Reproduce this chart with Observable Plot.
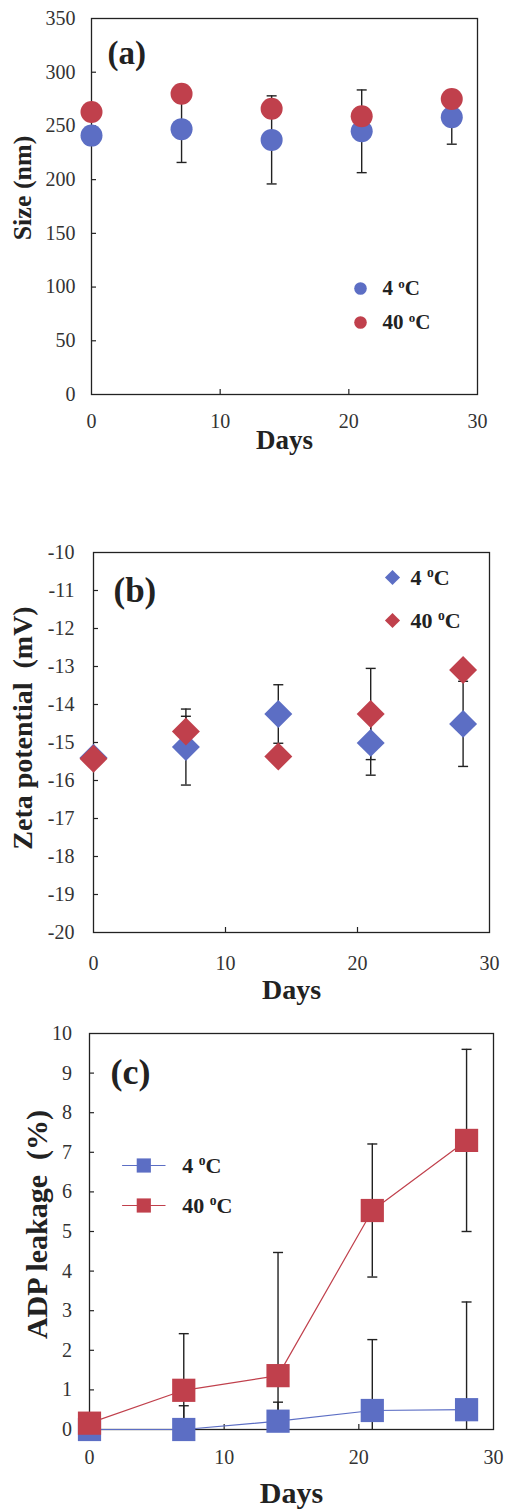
<!DOCTYPE html>
<html><head><meta charset="utf-8">
<script src="https://cdn.jsdelivr.net/npm/d3@7"></script>
<script src="https://cdn.jsdelivr.net/npm/@observablehq/plot@0.6"></script>
<style>
body{margin:0;background:#fff;width:506px;height:1509px;position:relative;overflow:hidden}
.panel{position:absolute;left:0}
svg, svg text, svg tspan{font-family:"Liberation Serif","DejaVu Serif",serif !important}
</style></head><body>
<div id="pa" class="panel" style="top:0px"></div>
<div id="pb" class="panel" style="top:480px"></div>
<div id="pc" class="panel" style="top:1010px"></div>
<script>
// ---------- data ----------
const days = [0, 7, 14, 21, 28];
const seriesNames = ["4 oC", "40 oC"];
const xTicks = [0, 10, 20, 30];

// (a) particle size, nm
const sizeTicks = [0, 50, 100, 150, 200, 250, 300, 350];
const sizeCold = [241, 247, 237, 245, 258];
const sizeColdErr = [0, 31, 41, 38.5, 25];
const sizeHot = [263, 280, 266, 259, 275];
const sizeHotErr = [0, 0, 0, 0, 0];

// (b) zeta potential, mV
const zetaTicks = [-20, -19, -18, -17, -16, -15, -14, -13, -12, -11, -10];
const zetaCold = [-15.4, -15.12, -14.25, -15.01, -14.51];
const zetaColdErr = [0, 1.0, 0.77, 0.85, 1.12];
const zetaHot = [-15.43, -14.71, -15.37, -14.25, -13.09];
const zetaHotErr = [0, 0.4, 0, 1.2, 0];

// (c) ADP leakage, %
const adpTicks = [0, 1, 2, 3, 4, 5, 6, 7, 8, 9, 10];
const adpCold = [0, 0, 0.21, 0.48, 0.5];
const adpColdErr = [0, 0.6, 0.48, 1.79, 2.72];
const adpHot = [0.16, 0.99, 1.36, 5.53, 7.3];
const adpHotErr = [0, 1.43, 3.11, 1.68, 2.3];

// ---------- styling ----------
const colors = ["#5c6ec4", "#c0404c"];
const ink = "#222";
const font = "Liberation Serif";
const hline = {draw(ctx, size) { const r = Math.sqrt(size / Math.PI); ctx.moveTo(-r, 0); ctx.lineTo(r, 0); }};

function rows(vals, errs, s) { return days.map((d, i) => ({day: d, v: vals[i], e: errs[i], s})); }

function panel(cfg) {
  const {el, height, mt, mb, ml, mr, yDomain, yTicks, series, symbol, r, lines,
         tickPadX, tickPadY, yTitle, yTitleSize, yTitleDx, yTitleDy, xTitleSize, xTitleDy,
         tag, tagSize, tagDx, tagDy, legend} = cfg;
  const innerW = 506 - ml - mr, innerH = height - mt - mb;
  const marks = [
    Plot.frame({stroke: ink, strokeWidth: 1.3}),
    Plot.tickX(xTicks.slice(1, -1), {x: d => d, stroke: ink, strokeWidth: 1.2, insetTop: innerH - 5}),
    Plot.tickY(yTicks.slice(1, -1), {y: d => d, stroke: ink, strokeWidth: 1.2, insetRight: innerW - 5}),
    Plot.axisX({ticks: xTicks, tickSize: 0, tickPadding: tickPadX, fontSize: 20, fontFamily: font, fill: "#333", label: null, tickFormat: d => String(d)}),
    Plot.axisY({ticks: yTicks, tickSize: 0, tickPadding: tickPadY, fontSize: 20, fontFamily: font, fill: "#333", label: null, tickFormat: d => String(d)}),
    Plot.text([yTitle], {text: d => d, frameAnchor: "left", rotate: -90, textAnchor: "middle", lineAnchor: "middle",
      dx: yTitleDx, dy: yTitleDy, fontSize: yTitleSize, fontFamily: font, fontWeight: "bold", fill: ink}),
    Plot.text(["Days"], {text: d => d, frameAnchor: "bottom", textAnchor: "middle", lineAnchor: "middle",
      dy: xTitleDy, fontSize: xTitleSize, fontFamily: font, fontWeight: "bold", fill: ink}),
    Plot.text([tag], {text: d => d, frameAnchor: "top-left", textAnchor: "start", lineAnchor: "middle",
      dx: tagDx, dy: tagDy, fontSize: tagSize, fontFamily: font, fontWeight: "bold", fill: ink})
  ];
  // error bars (behind markers)
  for (const data of series) {
    const withErr = data.filter(d => d.e > 0);
    marks.push(
      Plot.ruleX(withErr, {x: "day", y1: d => d.v - d.e, y2: d => d.v + d.e, stroke: ink, strokeWidth: 1.4, clip: true}),
      Plot.dot(withErr, {x: "day", y: d => d.v + d.e, symbol: hline, r: 5, stroke: ink, strokeWidth: 1.4, fill: "none", clip: true}),
      Plot.dot(withErr, {x: "day", y: d => d.v - d.e, symbol: hline, r: 5, stroke: ink, strokeWidth: 1.4, fill: "none", clip: true})
    );
  }
  series.forEach((data, i) => {
    if (lines) marks.push(Plot.line(data, {x: "day", y: "v", stroke: colors[i], strokeWidth: 1.2}));
    marks.push(Plot.dot(data, {x: "day", y: "v", symbol, r, fill: colors[i]}));
  });
  // legend
  seriesNames.forEach((name, i) => {
    if (legend.line) marks.push(Plot.dot([name], {frameAnchor: "top-left", dx: legend.mx, dy: legend.dy[i],
      symbol: hline, r: legend.line, stroke: colors[i], strokeWidth: 1.2, fill: "none"}));
    marks.push(Plot.dot([name], {frameAnchor: "top-left", dx: legend.mx, dy: legend.dy[i], symbol, r: legend.r, fill: colors[i]}));
    marks.push(Plot.text([name], {text: d => d, frameAnchor: "top-left", dx: legend.tx, dy: legend.dy[i],
      textAnchor: "start", lineAnchor: "middle", fontSize: legend.fs, fontFamily: font, fontWeight: "bold", fill: ink}));
  });
  const svg = Plot.plot({
    width: 506, height, marginTop: mt, marginBottom: mb, marginLeft: ml, marginRight: mr,
    x: {domain: [0, 30]}, y: {domain: yDomain},
    style: {fontFamily: font, background: "transparent", overflow: "visible"},
    marks
  });
  svg.setAttribute("font-family", font);
  // superscript "o" in the degree labels
  svg.querySelectorAll("text").forEach(t => {
    const m = t.textContent.match(/^(\d+) oC$/);
    if (!m) return;
    const fs = legend.fs;
    t.textContent = "";
    const ns = "http://www.w3.org/2000/svg";
    const a = document.createElementNS(ns, "tspan"); a.textContent = m[1] + " "; t.appendChild(a);
    const o = document.createElementNS(ns, "tspan"); o.textContent = "o";
    o.setAttribute("font-size", (fs * 0.62).toFixed(1)); o.setAttribute("dy", (-fs * 0.36).toFixed(1)); t.appendChild(o);
    const c = document.createElementNS(ns, "tspan"); c.textContent = "C"; c.setAttribute("dy", (fs * 0.36).toFixed(1)); t.appendChild(c);
  });
  document.getElementById(el).appendChild(svg);
}

panel({el: "pa", height: 470, mt: 18, mb: 76, ml: 91, mr: 29, yDomain: [0, 350], yTicks: sizeTicks,
  series: [rows(sizeCold, sizeColdErr, seriesNames[0]), rows(sizeHot, sizeHotErr, seriesNames[1])],
  symbol: "circle", r: 11, lines: false, tickPadX: 19, tickPadY: 16,
  yTitle: "Size (nm)", yTitleSize: 26, yTitleDx: -69, yTitleDy: -18.5, xTitleSize: 27, xTitleDy: 46,
  tag: "(a)", tagSize: 33, tagDx: 16, tagDy: 35,
  legend: {mx: 269, tx: 291, dy: [270, 304], r: 6.3, fs: 21}});

panel({el: "pb", height: 530, mt: 72, mb: 78, ml: 93, mr: 17, yDomain: [-20, -10], yTicks: zetaTicks,
  series: [rows(zetaCold, zetaColdErr, seriesNames[0]), rows(zetaHot, zetaHotErr, seriesNames[1])],
  symbol: "diamond2", r: 12.6, lines: false, tickPadX: 23, tickPadY: 19,
  yTitle: "Zeta potential  (mV)", yTitleSize: 28, yTitleDx: -70, yTitleDy: -14.5, xTitleSize: 28, xTitleDy: 58,
  tag: "(b)", tagSize: 35, tagDx: 20, tagDy: 38,
  legend: {mx: 299, tx: 317, dy: [25, 68], r: 6.8, fs: 22}});

panel({el: "pc", height: 499, mt: 23, mb: 80, ml: 89, mr: 13, yDomain: [0, 10], yTicks: adpTicks,
  series: [rows(adpCold, adpColdErr, seriesNames[0]), rows(adpHot, adpHotErr, seriesNames[1])],
  symbol: "square", r: 13.1, lines: true, tickPadX: 20, tickPadY: 17.5,
  yTitle: "ADP leakage  (%)", yTitleSize: 30, yTitleDx: -52.3, yTitleDy: -7, xTitleSize: 30, xTitleDy: 64,
  tag: "(c)", tagSize: 36, tagDx: 21, tagDy: 38.5,
  legend: {mx: 54.3, tx: 92.7, dy: [132, 172], r: 8, line: 21.7, fs: 22}});
</script>
</body></html>
